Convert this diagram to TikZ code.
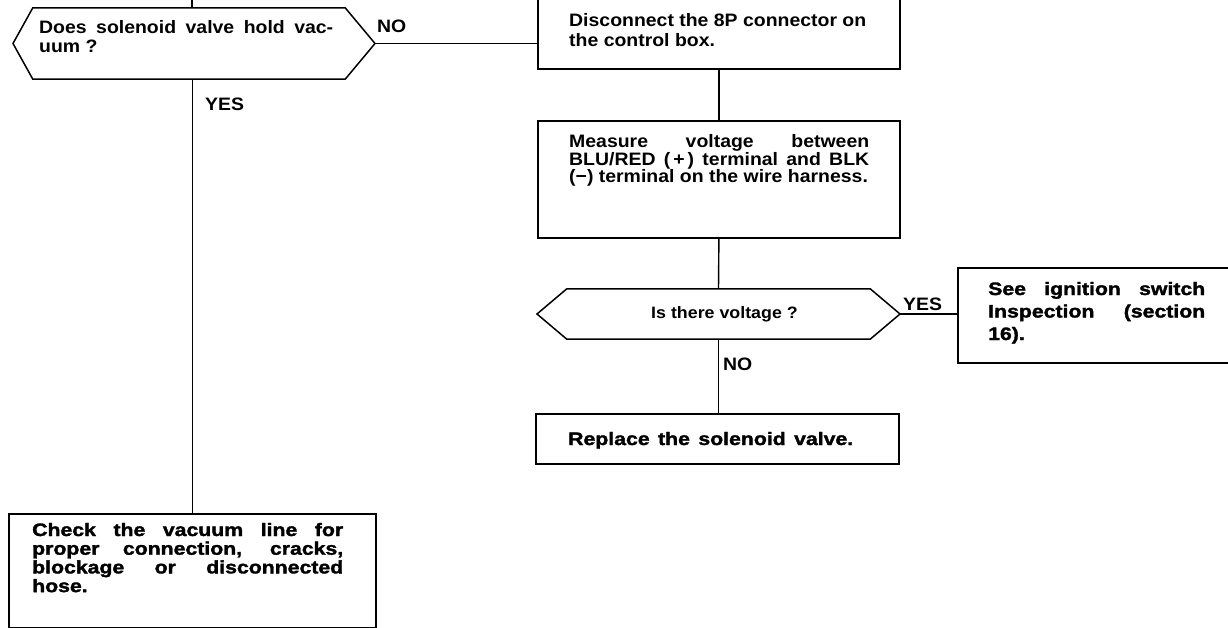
\documentclass[tikz,border=0pt]{standalone}
\usepackage{fontspec}
\setmainfont{Liberation Sans}
\newfontfamily\medf{Liberation Sans Bold}[FakeStretch=1.08]
\newfontfamily\heavyf{Liberation Sans Bold}[FakeStretch=1.18,FakeBold=1.8]
\newcommand{\jl}[2]{\makebox[#1][s]{#2}}
\begin{document}
\begin{tikzpicture}[x=1pt,y=-1pt,
  box/.style={draw, line width=1.8pt, rectangle, inner sep=0pt, anchor=north west},
  hexcore/.style={rectangle, inner sep=0pt},
  hexline/.style={line width=1.5pt, line join=miter},
  conn/.style={line width=1.4pt},
  txt/.style={inner sep=0pt, anchor=base west, font=\medf\fontsize{18}{19}\selectfont},
  htxt/.style={txt, font=\heavyf\fontsize{18}{19}\selectfont}]
\useasboundingbox (0,0) rectangle (1228,628);
\fill[white] (0,0) rectangle (1228,628);
\clip (0,0) rectangle (1228,628);

% boxes
\node[box, minimum width=362pt, minimum height=110pt] (disc) at (537,-42) {};
\node[box, minimum width=362pt, minimum height=117pt] (meas) at (537,120) {};
\node[box, minimum width=363pt, minimum height=50pt] (repl) at (535,413) {};
\node[box, minimum width=290pt, minimum height=95pt] (ign) at (957,267) {};
\node[box, minimum width=367pt, minimum height=114pt] (check) at (8,513) {};

% hexagons
\node[hexcore, minimum width=312pt, minimum height=71pt] (h1) at (189,43.5) {};
\coordinate (h1L) at (13,43.5);
\coordinate (h1R) at (375,43.5);
\draw[hexline] (h1.north west) -- (h1.north east) -- (h1R) -- (h1.south east)
  -- (h1.south west) -- (h1L) -- cycle;
\node[hexcore, minimum width=303pt, minimum height=50pt] (h2) at (718.5,314) {};
\coordinate (h2L) at (537,314);
\coordinate (h2R) at (900,314);
\draw[hexline] (h2.north west) -- (h2.north east) -- (h2R) -- (h2.south east)
  -- (h2.south west) -- (h2L) -- cycle;

% connectors
\coordinate (top) at (192,-5);
\draw[conn] (top) -- (top |- h1.north);
\draw[conn] (h1.south -| check.north) -- (check.north);
\draw[conn] (h1R) -- (h1R -| disc.west);
\draw[conn] (disc.south) -- (meas.north);
\draw[conn] (meas.south) -- (h2.north);
\draw[conn] (h2.south) -- (h2.south |- repl.north);
\draw[conn] (h2R) -- (h2R -| ign.west);

% texts
\node[txt] (t1) at (39,34) {\parbox[t]{294pt}{\baselineskip=18.5pt
  \jl{294pt}{Does solenoid valve hold vac-}\\\mbox{uum ?}}};
\node[txt] (t2) at (569,27) {\parbox[t]{300pt}{\baselineskip=19.5pt
  \mbox{Disconnect the 8P connector on}\\\mbox{the control box.}}};
\node[txt] (t3) at (569,148) {\parbox[t]{300pt}{\baselineskip=17.5pt
  \jl{300pt}{Measure voltage between}\\\jl{300pt}{BLU/RED (\,+\,) terminal and BLK}\\\mbox{(−) terminal on the wire harness.}}};
\node[txt, anchor=base, font=\medf\fontsize{16.5}{19}\selectfont] (t4) at (724.5,318) {Is there voltage ?};
\node[htxt] (t5) at (568,445) {\jl{285pt}{Replace the solenoid valve.}};
\node[htxt] (t6) at (988,295) {\parbox[t]{217pt}{\baselineskip=22.5pt
  \jl{217pt}{See ignition switch}\\\jl{217pt}{Inspection (section}\\\mbox{16).}}};
\node[htxt] (t7) at (32,536) {\parbox[t]{311pt}{\baselineskip=18.7pt
  \jl{311pt}{Check the vacuum line for}\\\jl{311pt}{proper connection, cracks,}\\\jl{311pt}{blockage or disconnected}\\\mbox{hose.}}};

% labels
\node[txt] (no1) at (377,33) {NO};
\node[txt] (yes1) at (205,111) {YES};
\node[txt] (yes2) at (903,310) {YES};
\node[txt] (no2) at (723,370) {NO};
\end{tikzpicture}
\end{document}
